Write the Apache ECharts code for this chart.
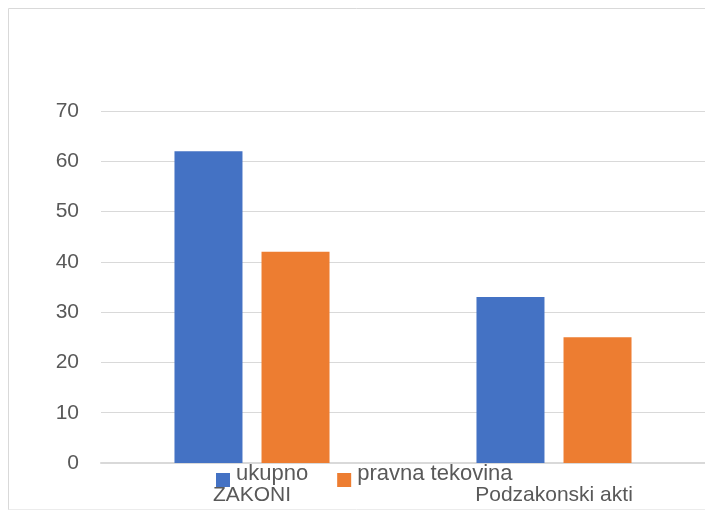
<!DOCTYPE html>
<html><head><meta charset="utf-8">
<script src="https://cdn.jsdelivr.net/npm/echarts@6/dist/echarts.min.js"></script>
<style>html,body{margin:0;padding:0;background:#fff;overflow:hidden}#c{width:705px;height:511px}</style>
</head><body><div id="c"></div>
<script>
const categories = ['ZAKONI', 'Podzakonski akti'];
const seriesNames = ['ukupno', 'pravna tekovina'];
const ukupno = [62, 33];
const pravnaTekovina = [42, 25];
const yTicks = [0, 10, 20, 30, 40, 50, 60, 70];

const font = '"Liberation Sans", Arial, sans-serif';
const border = {stroke: '#d9d9d9', lineWidth: 1};
const lowSquare = 'path://M0,0h0.01v0.01h-0.01z M0,13h14v14h-14z';
const chart = echarts.init(document.getElementById('c'), null, {renderer: 'canvas'});
chart.setOption({
  animation: false,
  graphic: [
    {type: 'line', shape: {x1: 8.5, y1: 8.5, x2: 705, y2: 8.5}, style: border},
    {type: 'line', shape: {x1: 8.5, y1: 8.5, x2: 8.5, y2: 510}, style: border},
    {type: 'line', shape: {x1: 8.5, y1: 509.5, x2: 705, y2: 509.5}, style: {stroke: '#ececec', lineWidth: 1}}
  ],
  legend: {
    data: seriesNames,
    left: 216, top: 460, padding: 0,
    itemWidth: 14, itemHeight: 27, itemGap: 29,
    icon: lowSquare,
    textStyle: {fontFamily: font, fontSize: 22, color: '#595959', padding: [0, 0, 0, 1]}
  },
  grid: {left: 101, width: 611, top: 111, bottom: 48, containLabel: false},
  xAxis: {
    type: 'category', data: categories,
    axisLine: {show: true, lineStyle: {color: '#d9d9d9', width: 2}},
    axisTick: {show: false},
    axisLabel: {fontFamily: font, fontSize: 21, color: '#595959', margin: 22}
  },
  yAxis: {
    type: 'value', min: yTicks[0], max: yTicks[yTicks.length - 1], interval: 10,
    axisLine: {show: false}, axisTick: {show: false},
    splitLine: {lineStyle: {color: '#d9d9d9', width: 1}},
    axisLabel: {fontFamily: font, fontSize: 21, color: '#595959', margin: 22}
  },
  series: [
    {name: seriesNames[0], type: 'bar', data: ukupno, barWidth: 68, barGap: '28%',
     itemStyle: {color: '#4472C4'}},
    {name: seriesNames[1], type: 'bar', data: pravnaTekovina, barWidth: 68,
     itemStyle: {color: '#ED7D31'}}
  ]
});
</script></body></html>
